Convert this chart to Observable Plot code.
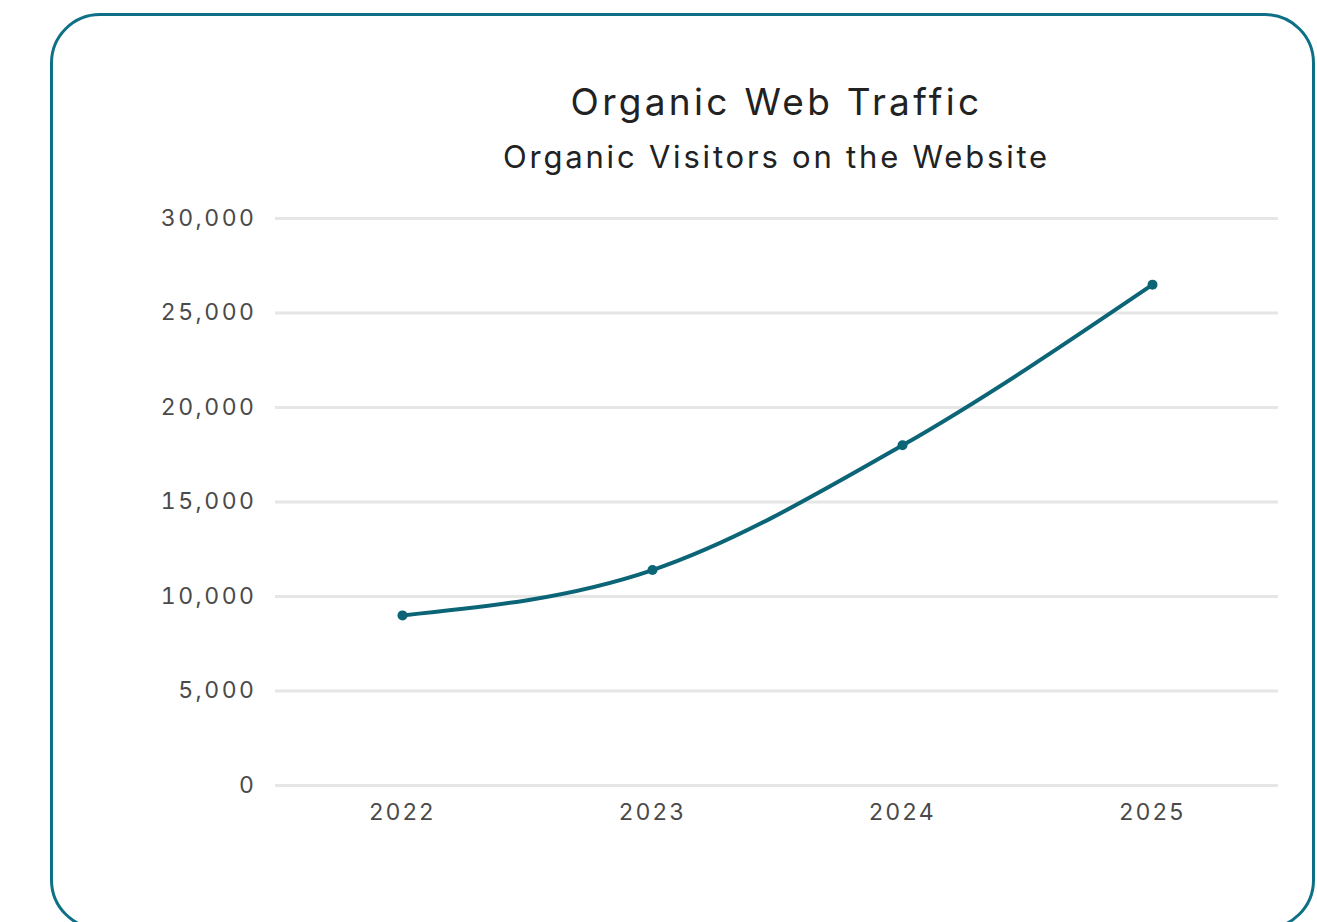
<!DOCTYPE html>
<html>
<head>
<meta charset="utf-8">
<script src="https://cdn.jsdelivr.net/npm/d3@7"></script>
<script src="https://cdn.jsdelivr.net/npm/@observablehq/plot@0.6"></script>
<style>
  html, body { margin: 0; padding: 0; background: #fff; width: 1317px; height: 922px; overflow: hidden; font-family: Inter, "Noto Sans", sans-serif; }
  #frame { position: absolute; left: 50px; top: 13px; width: 1265px; height: 917px; border: 3px solid #0e7086; border-radius: 50px; box-sizing: border-box; }
  #title { position: absolute; left: 275px; width: 1003px; top: 78px; text-align: center; font-size: 37px; color: #222; line-height: 48px; letter-spacing: 3.3px; }
  #subtitle { position: absolute; left: 275px; width: 1003px; top: 137px; text-align: center; font-size: 31px; color: #222; line-height: 40px; letter-spacing: 2.8px; }
  #chart { position: absolute; left: 0; top: 190px; }
  #chart svg text { letter-spacing: 2.5px; }
</style>
</head>
<body>
<div id="frame"></div>
<div id="title">Organic Web Traffic</div>
<div id="subtitle">Organic Visitors on the Website</div>
<div id="chart"></div>
<script>
const years = ["2022", "2023", "2024", "2025"];
const visitors = [9000, 11400, 18000, 26500];
const yTicks = [0, 5000, 10000, 15000, 20000, 25000, 30000];

const data = years.map((y, i) => ({year: y, value: visitors[i]}));

const chart = Plot.plot({
  width: 1317,
  height: 660,
  marginLeft: 275,
  marginRight: 39,
  marginTop: 28,
  marginBottom: 65,
  style: {fontFamily: "Inter, 'Noto Sans', sans-serif", fontSize: "23px", color: "#4a4a4a", background: "transparent"},
  x: {type: "point", domain: years, padding: 0.5, label: null, tickSize: 0, tickPadding: 18},
  y: {domain: [0, 30000], ticks: yTicks, tickFormat: d3.format(","), label: null, tickSize: 0, tickPadding: 19},
  marks: [
    Plot.ruleY(yTicks, {stroke: "#e6e6e6", strokeWidth: 3}),
    Plot.line(data, {x: "year", y: "value", stroke: "#0b6576", strokeWidth: 4, curve: "monotone-x"}),
    Plot.dot(data, {x: "year", y: "value", fill: "#0b6576", r: 5})
  ]
});
document.getElementById("chart").appendChild(chart);
</script>
</body>
</html>
